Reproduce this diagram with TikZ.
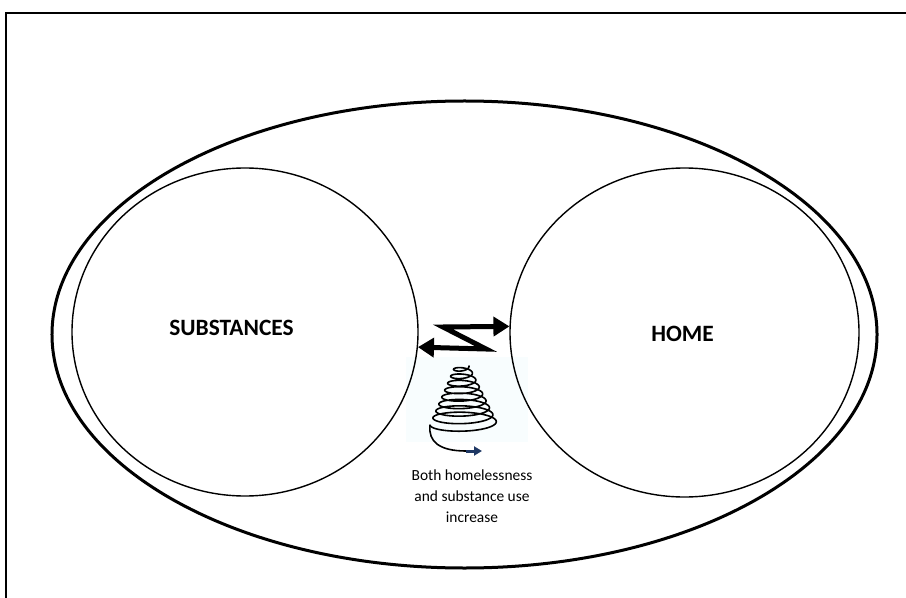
\documentclass[tikz,border=0pt]{standalone}
\usepackage{fontspec}
\setmainfont{Carlito}
\usetikzlibrary{shapes.geometric,arrows.meta}
\definecolor{hazeblue}{RGB}{248,253,254}
\definecolor{navytip}{RGB}{31,56,100}
\tikzset{
  frameline/.style={line width=2bp},
  bigring/.style={ellipse,draw,line width=3bp,inner sep=0pt},
  ring/.style={ellipse,draw,line width=1.4bp,inner sep=0pt},
  titlelabel/.style={font=\fontsize{23.5}{28}\selectfont\bfseries},
  notelabel/.style={font=\fontsize{15.5}{21}\selectfont,align=center},
  zarrow/.style={line width=5bp,line join=miter,{Triangle[length=16bp,width=19bp]}-{Triangle[length=16bp,width=19bp]}},
  coilline/.style={line width=1.6bp,line cap=round},
}
\begin{document}
\begin{tikzpicture}[x=1bp,y=-1bp]
\useasboundingbox (0,0) rectangle (906,598);
% open frame along the top and left edges
\draw[frameline] (6,598) -- (6,13) -- (906,13);
% faint backdrop behind the coil
\fill[hazeblue] (406,357) rectangle (528,442);
% outer enclosing ellipse and the two circles
\node[bigring,minimum width=825bp,minimum height=467bp] (outer) at (464.5,334.5) {};
\node[ring,minimum width=346bp,minimum height=328bp] (subs) at (245,332) {};
\node[ring,minimum width=349bp,minimum height=329bp] (home) at (684.5,332.5) {};
\node[titlelabel] (subslabel) at (231.5,328) {SUBSTANCES};
\node[titlelabel] (homelabel) at (682.5,334) {HOME};
% zig-zag double arrow between the circles
\coordinate (zbot) at (486,349);
\coordinate (ztop) at (443,327);
\draw[zarrow] (subs.-5.6) -- (zbot) -- (ztop) -- (home.178);
% widening coil, u runs from 0 to 1 over 8.5 turns
\draw[coilline] plot[domain=0:1,samples=650,variable=\u]
  ({462+2*\u+(7+27*\u)*cos(3060*\u)},{366+59*\u+(3+5*\u)*sin(3060*\u)})
  coordinate (coilend);
\coordinate (tailend) at (466,451);
\draw[coilline] (coilend) .. controls (428,442) and (440,451) .. (tailend);
\draw[navytip,line width=3bp,-{Triangle[length=8bp,width=9bp]}] (tailend) -- (482,451);
% caption under the coil
\node[notelabel] (note) at (472,496) {Both homelessness\\and substance use\\increase};
\end{tikzpicture}
\end{document}
